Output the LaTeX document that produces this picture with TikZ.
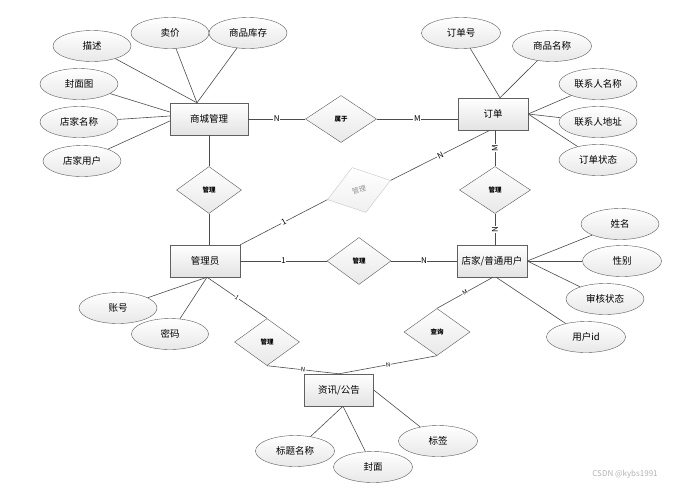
\documentclass[tikz,border=0pt]{standalone}
\usepackage{fontspec}
\setmainfont{Noto Sans CJK SC}
\usepackage{tikz}
\usetikzlibrary{shapes.geometric, positioning, calc}

\begin{document}
\begin{tikzpicture}[x=1pt, y=-1pt,
  entity/.style={draw=gray!75!black, top color=white, bottom color=gray!22, minimum width=70pt, minimum height=32pt, inner sep=0pt, font=\fontsize{9.5}{11}\selectfont},
  attr/.style={ellipse, draw=gray!70!black, top color=white, bottom color=gray!18, minimum width=78pt, minimum height=31pt, inner sep=0pt, font=\fontsize{9.5}{11}\selectfont},
  rel/.style={diamond, draw=gray!70!black, top color=white, bottom color=gray!18, minimum width=66pt, minimum height=47pt, inner sep=0pt, font=\fontsize{6.5}{7}\selectfont\bfseries},
  link/.style={draw=gray!60!black, line width=0.6pt},
  card/.style={fill=white, inner sep=0.6pt, font=\fontsize{8}{9}\selectfont},
  smallcard/.style={fill=white, inner sep=0.4pt, font=\fontsize{6}{7}\selectfont}]
\useasboundingbox (0,0) rectangle (687,491);

% entities
\node[entity, minimum width=78pt] (mall) at (209,119) {商城管理};
\node[entity] (order) at (493,114) {订单};
\node[entity] (admin) at (205,261) {管理员};
\node[entity] (shop) at (492,261) {店家/普通用户};
\node[entity, minimum width=69pt] (info) at (339,390) {资讯/公告};

% relations
\node[rel, minimum width=71pt] (belong) at (341,119) {属于};
\node[rel, minimum width=65pt] (mgtop) at (209,190) {管理};
\node[rel, minimum width=71pt] (mgright) at (495,190) {管理};
\node[rel, minimum width=64pt] (mgmid) at (359,261) {管理};
\node[rel, minimum width=65pt] (mglow) at (267,342) {管理};
\node[rel] (query) at (437,332) {查询};
\node[diamond, rotate=17, draw=gray!45, top color=white, bottom color=gray!12, minimum width=66pt, minimum height=47pt, inner sep=0pt, text=gray!85, font=\fontsize{7}{8}\selectfont] (mgrot) at (359,190) {管理};

% attributes of 商城管理
\node[attr] (desc) at (92,46) {描述};
\node[attr] (price) at (170,33) {卖价};
\node[attr] (stock) at (248,33) {商品库存};
\node[attr] (cover) at (79,84) {封面图};
\node[attr] (shopname) at (79,122) {店家名称};
\node[attr] (shopuser) at (82,161) {店家用户};

% attributes of 订单
\node[attr, minimum width=79pt] (orderno) at (461,33) {订单号};
\node[attr, minimum width=79pt] (goodsname) at (552,46) {商品名称};
\node[attr] (contact) at (598,84) {联系人名称};
\node[attr] (address) at (598,122) {联系人地址};
\node[attr] (state) at (598,160) {订单状态};

% attributes of 店家/普通用户
\node[attr] (name) at (620,224) {姓名};
\node[attr, minimum width=79pt] (gender) at (622,261) {性别};
\node[attr] (audit) at (605,299) {审核状态};
\node[attr, minimum width=79pt] (userid) at (586,337) {用户id};

% attributes of 管理员
\node[attr] (account) at (118,308) {账号};
\node[attr, minimum width=77pt] (pwd) at (170,334) {密码};

% attributes of 资讯/公告
\node[attr, minimum width=79pt] (title) at (295,451) {标题名称};
\node[attr, minimum width=79pt] (infocover) at (373,467) {封面};
\node[attr, minimum width=79pt] (tag) at (438,441) {标签};

% attribute links
\draw[link] (desc) -- ([xshift=-12pt]mall.north);
\draw[link] (price) -- ([xshift=-12pt]mall.north);
\draw[link] (stock) -- ([xshift=-12pt]mall.north);
\draw[link] (cover) -- ([yshift=7pt]mall.west);
\draw[link] (shopname) -- ([yshift=3pt]mall.west);
\draw[link] (shopuser) -- ([yshift=-2pt]mall.west);
\draw[link] (orderno) -- ([xshift=7pt]order.north);
\draw[link] (goodsname) -- ([xshift=7pt]order.north);
\draw[link] (contact) -- (order.east);
\draw[link] (address) -- (order.east);
\draw[link] (state) -- (order.east);
\draw[link] (name) -- (shop.east);
\draw[link] (gender) -- (shop.east);
\draw[link] (audit) -- (shop.east);
\draw[link] (userid) -- ([xshift=4pt]shop.south);
\draw[link] (account) -- ([xshift=2pt]admin.south);
\draw[link] (pwd) -- ([xshift=2pt]admin.south);
\draw[link] (title) -- ([xshift=4pt]info.south);
\draw[link] (infocover) -- ([xshift=4pt]info.south);
\draw[link] (tag) -- (info.east);

% relation links
\draw[link] (mall.east) -- node[card] {N} (belong.west);
\draw[link] (belong.east) -- node[card] {M} (belong.east -| order.west);
\draw[link] (mall.south) -- (mgtop.north);
\draw[link] (mgtop.south) -- (mgtop.south |- admin.north);
\draw[link] (mgright.north |- order.south) -- node[card, rotate=90] {M} (mgright.north);
\draw[link] (mgright.south) -- node[card, rotate=90] {N} (mgright.south |- shop.north);
\draw[link] (admin.east) -- node[card] {1} (mgmid.west);
\draw[link] (mgmid.east) -- node[card] {N} (shop.west);
\draw[link] (admin.north east) -- node[card, sloped] {1} (mgrot.west);
\draw[link] (mgrot.east) -- node[card, sloped] {N} ([xshift=-3pt]order.south);
\draw[link] ([xshift=2pt]admin.south) -- node[smallcard, sloped] {1} (mglow.north);
\draw[link] (mglow.south) -- node[smallcard, sloped] {N} (info.north);
\draw[link] ([xshift=1pt]shop.south) -- node[smallcard, sloped] {M} (query.north);
\draw[link] (query.south) -- node[smallcard, sloped] {N} (info.north);

% watermark
\node[text=gray!60, font=\fontsize{8}{9}\selectfont] (mark) at (625,474) {CSDN @kybs1991};
\end{tikzpicture}
\end{document}
